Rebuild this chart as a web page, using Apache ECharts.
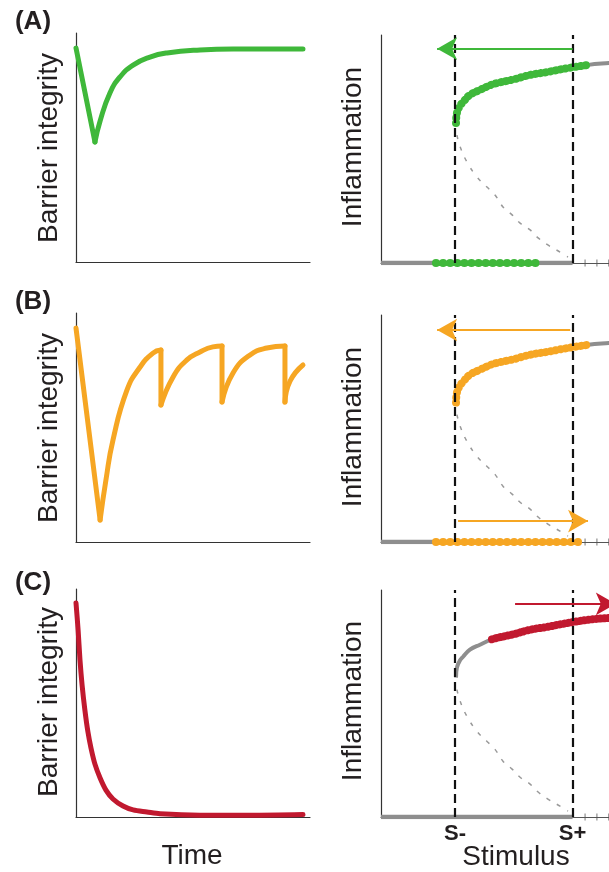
<!DOCTYPE html>
<html><head><meta charset="utf-8">
<script src="https://cdn.jsdelivr.net/npm/echarts@6/dist/echarts.min.js"></script>
<style>html,body{margin:0;padding:0;background:#fff}#c{width:609px;height:872px}</style>
</head><body><div id="c"></div>
<script>
// ---------- data ----------
const panelLabels = ['(A)', '(B)', '(C)'];
const leftAxisTitle = 'Barrier integrity';
const rightAxisTitle = 'Inflammation';
const timeTitle = 'Time';
const stimTitle = 'Stimulus';
const S_MINUS = 32.5, S_PLUS = 84;
const stimTickValues = [S_MINUS, S_PLUS];
const stimTickLabels = ['S-', 'S+'];

// Left column: barrier integrity vs time (x 0..100, y 0..100)
const barrierA_drop = [[0, 93.4], [8.1, 52.4]];
const barrierA_recovery = [[8.1, 52.4], [10.3, 61.6], [14.5, 73.8], [18.8, 80.8], [24.4, 86.0], [31.6, 89.5], [38.9, 91.3], [53.0, 92.6], [67.1, 93.0], [97.0, 93.0]];

const barrierB_drop = [[0, 93.4], [10.3, 9.6]];
const barrierB_recoveries = [
  [[10.3, 9.6], [12.8, 27.1], [15.8, 44.5], [21.8, 66.4], [27.4, 76.4], [32.9, 82.5], [36.3, 83.8]],
  [[36.3, 59.8], [41.5, 72.1], [47.4, 79.5], [53.0, 83.0], [58.5, 85.2], [62.4, 85.6]],
  [[62.4, 61.1], [67.1, 73.8], [74.4, 81.7], [81.6, 84.7], [89.3, 85.6]],
  [[89.3, 61.1], [91.5, 70.3], [97.0, 77.3]]
];
const barrierB_drops = [
  [[36.3, 83.8], [36.3, 59.8]],
  [[62.4, 85.6], [62.4, 61.1]],
  [[89.3, 85.6], [89.3, 61.1]]
];

const barrierC = [[0, 93.9], [0.9, 82.0], [1.7, 68.9], [2.6, 57.9], [3.8, 46.9], [5.1, 37.3], [6.4, 30.3], [8.1, 23.2], [10.3, 17.1], [12.8, 11.8], [15.8, 7.9], [20.1, 4.8], [24.4, 3.1], [30.3, 2.2], [35.9, 1.4], [53.0, 0.8], [74.4, 0.8], [97.0, 1.1]];

// Right column: bifurcation diagram, inflammation vs stimulus (visible stimulus range 0..100)
const upperBranch = [[32.9, 61.4], [33.3, 65.8], [34.6, 68.9], [36.0, 70.6], [39.0, 73.7], [43.4, 75.9], [48.7, 78.3], [50.9, 78.9], [58.8, 80.7], [65.4, 82.5], [73.2, 83.8], [79.8, 85.1], [91.0, 86.9], [100, 87.7], [106, 88.2]];
const unstableBranch = [[33.3, 56.1], [34.6, 51.3], [37.7, 44.3], [42.1, 37.7], [46.5, 33.3], [50.0, 29.8], [53.5, 24.6], [57.5, 21.1], [61.0, 17.5], [65.4, 14.5], [68.9, 11.0], [73.2, 7.9], [78.5, 4.8], [82.0, 2.6]];
const lowerBranch = [[0, 0], [S_PLUS, 0]];
const axisMarks = [[89.5, 0], [94.7, 0], [99.9, 0]];

const lowTrajA = [[24.1, 0], [69.7, 0]];
const highTrajA_end = 91.0;
const arrowA = [[84, 94.0], [24.6, 94.0]];

const lowTrajB = [[24.1, 0], [86.8, 0]];
const highTrajB_end = 91.0;
const arrowsB = [[[83, 93.4], [24.6, 93.4]], [[33.8, 9.2], [90.8, 9.2]]];

const highTrajC_start = 48.7;
const arrowC = [[58.8, 93.9], [103, 93.9]];

// ---------- styles ----------
const GREEN = '#3fb83a', ORANGE = '#f6a623', RED = '#c1192f', GRAY = '#8e8e8e';
const FONT = '"Liberation Sans", Arial, sans-serif';
const TXT = '#231f20';
const STIM_MAX = 110;           // axis runs past the right edge of the page
const PX_PER_UNIT = 2.28;

const leftGrids = [
  { left: 76, width: 234, top: 33, height: 229 },
  { left: 76, width: 234, top: 313, height: 229 },
  { left: 76, width: 234, top: 589, height: 228 }
];
const rightGrids = [
  { left: 381, width: STIM_MAX * PX_PER_UNIT, top: 35, height: 228 },
  { left: 381, width: STIM_MAX * PX_PER_UNIT, top: 315, height: 227 },
  { left: 381, width: STIM_MAX * PX_PER_UNIT, top: 590, height: 227 }
];

const grids = [], xAxes = [], yAxes = [], series = [];
function addAxes(g, xColor, xMax, withStimLabels) {
  grids.push(Object.assign({ outerBoundsMode: 'none', containLabel: false }, g));
  const idx = grids.length - 1;
  xAxes.push({
    gridIndex: idx, type: 'value', min: 0, max: xMax,
    axisLine: { show: true, lineStyle: { color: xColor, width: 1.2 } },
    axisTick: { show: false }, splitLine: { show: false },
    axisLabel: withStimLabels ? {
      show: true, customValues: stimTickValues, margin: 6,
      formatter: v => stimTickLabels[stimTickValues.indexOf(v)],
      fontFamily: FONT, fontSize: 22, fontWeight: 'bold', color: TXT
    } : { show: false }
  });
  yAxes.push({
    gridIndex: idx, type: 'value', min: 0, max: 100,
    axisLine: { show: true, lineStyle: { color: '#333', width: 1.2 } },
    axisTick: { show: false }, splitLine: { show: false }, axisLabel: { show: false }
  });
  return idx;
}
function curve(idx, data, color, smooth, z) {
  series.push({
    type: 'line', xAxisIndex: idx, yAxisIndex: idx, data, smooth: smooth,
    showSymbol: false, symbol: 'none', silent: true, z: z || 3,
    lineStyle: { color, width: 5, cap: 'round', join: 'round' }
  });
}
function dotted(idx, data, color, gap, smooth) {
  series.push({
    type: 'line', xAxisIndex: idx, yAxisIndex: idx, data, smooth: smooth,
    showSymbol: false, symbol: 'none', silent: true, z: 4,
    lineStyle: { color, width: 8, cap: 'round', join: 'round', type: [0.1, gap] }
  });
}

// left panels
const la = addAxes(leftGrids[0], '#333', 100, false);
curve(la, barrierA_drop, GREEN, false);
curve(la, barrierA_recovery, GREEN, 0.5);
const lb = addAxes(leftGrids[1], '#333', 100, false);
curve(lb, barrierB_drop, ORANGE, false);
barrierB_recoveries.forEach(s => curve(lb, s, ORANGE, 0.5));
barrierB_drops.forEach(s => curve(lb, s, ORANGE, false));
const lc = addAxes(leftGrids[2], '#333', 100, false);
curve(lc, barrierC, RED, 0.3);

// right panels
function rightPanel(g, withLabels) {
  const idx = addAxes(g, '#555', STIM_MAX, withLabels);
  series.push({
    type: 'line', xAxisIndex: idx, yAxisIndex: idx, data: lowerBranch, showSymbol: false, silent: true, z: 2,
    lineStyle: { color: GRAY, width: 4.5 }
  });
  series.push({
    type: 'line', xAxisIndex: idx, yAxisIndex: idx, data: upperBranch, smooth: 0.4, showSymbol: false, silent: true, z: 2,
    lineStyle: { color: GRAY, width: 4 }
  });
  series.push({
    type: 'line', xAxisIndex: idx, yAxisIndex: idx, data: unstableBranch, smooth: 0.4, showSymbol: false, silent: true, z: 2,
    lineStyle: { color: '#999', width: 1.5, type: [4, 8] }
  });
  series.push({
    type: 'scatter', xAxisIndex: idx, yAxisIndex: idx, data: axisMarks, symbol: 'rect', symbolSize: [1, 7],
    silent: true, z: 2, itemStyle: { color: '#555' }
  });
  series.push({
    type: 'line', xAxisIndex: idx, yAxisIndex: idx, data: [], silent: true, z: 10,
    markLine: {
      silent: true, symbol: ['none', 'none'], animation: false, label: { show: false },
      lineStyle: { color: '#111', width: 2.2, type: [9, 5] },
      data: stimTickValues.map(v => ({ xAxis: v }))
    }
  });
  return idx;
}
function arrows(idx, list, color) {
  series.push({
    type: 'line', xAxisIndex: idx, yAxisIndex: idx, data: [], silent: true, z: 11,
    markLine: {
      silent: true, symbol: ['none', 'arrow'], symbolSize: [17, 20], animation: false, label: { show: false },
      lineStyle: { color, width: 2, type: 'solid' },
      data: list.map(a => [{ coord: a[0] }, { coord: a[1] }])
    }
  });
}

const ra = rightPanel(rightGrids[0], false);
dotted(ra, lowTrajA, GREEN, 7, false);
dotted(ra, upperBranch.filter(p => p[0] <= highTrajA_end), GREEN, 5, 0.4);
arrows(ra, [arrowA], GREEN);

const rb = rightPanel(rightGrids[1], false);
dotted(rb, lowTrajB, ORANGE, 7, false);
dotted(rb, upperBranch.filter(p => p[0] <= highTrajB_end), ORANGE, 5, 0.4);
arrows(rb, arrowsB, ORANGE);

const rc = rightPanel(rightGrids[2], true);
dotted(rc, upperBranch.filter(p => p[0] >= highTrajC_start), RED, 4, 0.4);
arrows(rc, [arrowC], RED);

// texts
const graphic = [];
const labelY = [22, 302, 583];
panelLabels.forEach((t, i) => graphic.push({
  type: 'text', x: 33, y: labelY[i],
  style: { text: t, font: 'bold 26px ' + FONT, fill: TXT, align: 'center', verticalAlign: 'middle' }
}));
[148, 428, 702].forEach(y => graphic.push({
  type: 'text', x: 49, y, rotation: Math.PI / 2,
  style: { text: leftAxisTitle, font: '28px ' + FONT, fill: TXT, align: 'center', verticalAlign: 'middle' }
}));
[147, 427, 701].forEach(y => graphic.push({
  type: 'text', x: 353, y, rotation: Math.PI / 2,
  style: { text: rightAxisTitle, font: '28px ' + FONT, fill: TXT, align: 'center', verticalAlign: 'middle' }
}));
graphic.push({ type: 'text', x: 192, y: 856, style: { text: timeTitle, font: '28px ' + FONT, fill: TXT, align: 'center', verticalAlign: 'middle' } });
graphic.push({ type: 'text', x: 516, y: 857, style: { text: stimTitle, font: '28px ' + FONT, fill: TXT, align: 'center', verticalAlign: 'middle' } });

const chart = echarts.init(document.getElementById('c'), null, { renderer: 'canvas' });
chart.setOption({
  animation: false,
  backgroundColor: '#fff',
  grid: grids, xAxis: xAxes, yAxis: yAxes, series, graphic
});
</script></body></html>
